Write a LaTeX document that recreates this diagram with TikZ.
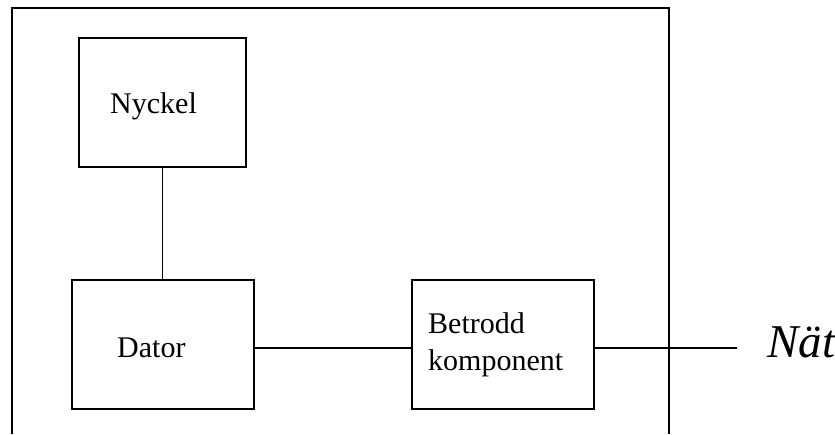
\documentclass[tikz,border=0pt]{standalone}
\usepackage{fontspec}
\setmainfont{Liberation Serif}
\begin{document}
\begin{tikzpicture}[x=1pt,y=-1pt,
  box/.style={draw,line width=1.2pt,rectangle,inner sep=0pt},
  lbl/.style={inner sep=0pt,anchor=base west,font=\fontsize{30}{37}\selectfont},
  conn/.style={line width=1.2pt}]
\useasboundingbox (0,0) rectangle (835,434);
% outer frame (open at the bottom edge)
\draw[conn] (12,434) -- (12,8) -- (669,8) -- (669,434);
% boxes
\node[box,minimum width=167pt,minimum height=129pt] (nyckel) at (162.5,102.5) {};
\node[box,minimum width=182pt,minimum height=129pt] (dator) at (163,344.5) {};
\node[box,minimum width=182pt,minimum height=129pt] (betrodd) at (503,344.5) {};
\coordinate (netend) at (737,348);
% labels
\node[lbl] (tnyckel) at (110,113) {Nyckel};
\node[lbl] (tdator) at (117,357) {Dator};
\node[lbl] (tbetrodd) at (428,333) {Betrodd};
\node[lbl] (tkomp) at (428,370) {komponent};
\node[inner sep=0pt,anchor=base west,font=\fontsize{47}{56}\selectfont\itshape] (nat) at (767,357) {Nät};
% connectors
\draw[conn] (nyckel.south) -- (nyckel.south |- dator.north);
\draw[conn] (dator.east |- netend) -- (betrodd.west |- netend);
\draw[conn] (betrodd.east |- netend) -- (netend);
\end{tikzpicture}
\end{document}
